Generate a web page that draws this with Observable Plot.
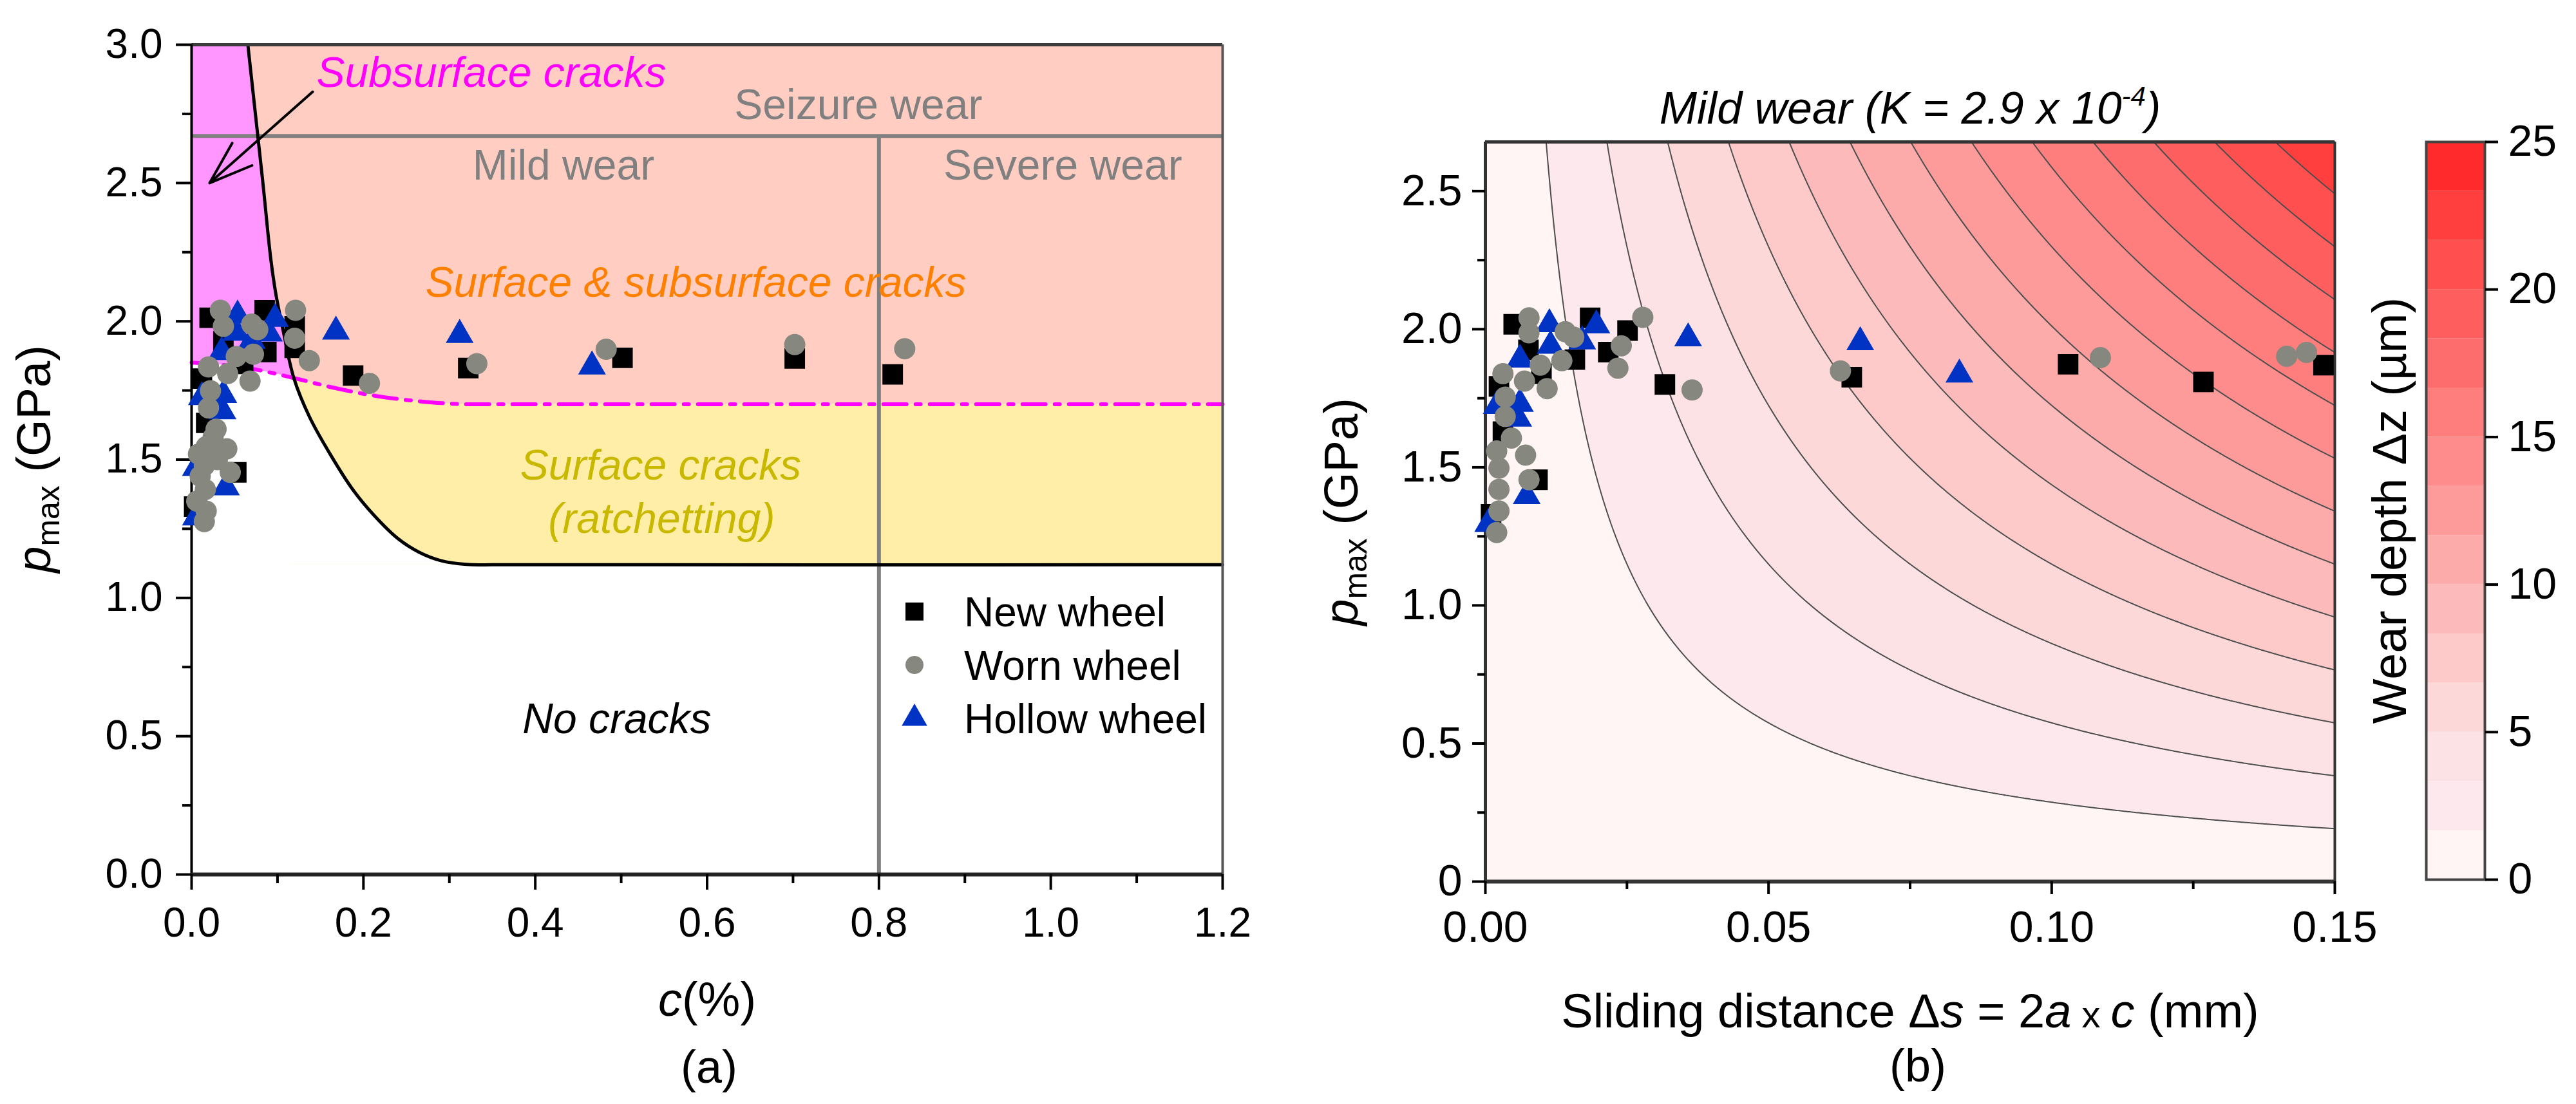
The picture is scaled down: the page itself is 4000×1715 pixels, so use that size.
<!DOCTYPE html>
<html>
<head>
<meta charset="utf-8">
<script src="https://cdn.jsdelivr.net/npm/d3@7"></script>
<script src="https://cdn.jsdelivr.net/npm/@observablehq/plot@0.6"></script>
<style>
  html, body { margin: 0; padding: 0; background: #fff; }
  #root { position: relative; width: 4000px; height: 1715px; overflow: hidden; background: #fff; }
  #root > svg { position: absolute; top: 0; }
</style>
</head>
<body>
<div id="root"></div>
<script>
// ---------------- DATA: panel (a) ----------------
const newA_c   = [0.021,0.085,0.120,0.120,0.087,0.060,0.012,0.037,0.188,0.017,0.052,0.003,0.322,0.5015,0.702,0.816];
const newA_p   = [2.013,2.040,1.982,1.904,1.889,1.846,1.793,1.928,1.804,1.633,1.454,1.330,1.831,1.868,1.866,1.808];
const wornA_c  = [0.0335,0.037,0.070,0.077,0.121,0.120,0.137,0.207,0.068,0.072,0.052,0.042,0.0197,0.022,0.0197,0.0285,0.041,0.045,0.017,0.0148,0.016,0.017,0.0148,0.008,0.010,0.006,0.025,0.030,0.332,0.4825,0.702,0.830];
const wornA_p  = [2.040,1.982,1.990,1.970,2.040,1.939,1.858,1.776,1.784,1.881,1.873,1.811,1.835,1.749,1.687,1.610,1.539,1.454,1.547,1.478,1.392,1.314,1.276,1.520,1.440,1.350,1.580,1.500,1.847,1.899,1.916,1.901];
const hollowA_c = [0.0535,0.097,0.168,0.090,0.052,0.035,0.037,0.036,0.040,0.012,0.005,0.005,0.070,0.312,0.466];
const hollowA_p = [2.021,2.009,1.963,1.956,1.959,1.889,1.734,1.675,1.400,1.726,1.291,1.470,1.930,1.951,1.837];

// shakedown limit curve (black) and subsurface-crack limit (dash-dot)
const shake_c = [0.0655,0.0725,0.083,0.092,0.098,0.107,0.119,0.137,0.162,0.188,0.212,0.240,0.265,0.290,0.320,0.360,1.200];
const shake_p = [3.000,2.800,2.500,2.230,2.100,1.960,1.795,1.656,1.516,1.390,1.300,1.215,1.165,1.135,1.121,1.120,1.120];
const sub_c   = [0,0.067,0.119,0.165,0.215,0.265,0.327,0.400,1.200];
const sub_p   = [1.851,1.830,1.795,1.760,1.730,1.711,1.700,1.700,1.700];
const crossP = 1.795, crossC = 0.119;          // where the two limits meet
const ratchetLimit = 1.12;                       // flat part of shakedown curve
const seizureLimit = 2.67;                       // mild / seizure wear
const severeLimit = 0.8;                         // mild / severe wear
const xTicksA = [0,0.2,0.4,0.6,0.8,1.0,1.2];
const xMinorA = [0.1,0.3,0.5,0.7,0.9,1.1];
const yTicksA = [0,0.5,1.0,1.5,2.0,2.5,3.0];
const yMinorA = [0.25,0.75,1.25,1.75,2.25,2.75];

// ---------------- DATA: panel (b) ----------------
const newB_s   = [0.0050,0.0185,0.0158,0.0217,0.0099,0.0024,0.0031,0.0092,0.0076,0.0251,0.0317,0.0647,0.1029,0.1268,0.1480,0.0010];
const newB_p   = [2.018,2.041,1.890,1.917,1.839,1.793,1.629,1.455,1.925,1.995,1.800,1.826,1.873,1.809,1.870,1.330];
const wornB_s  = [0.0077,0.0077,0.0141,0.0156,0.0135,0.0097,0.0069,0.0031,0.0109,0.0035,0.0035,0.0046,0.0071,0.0077,0.0020,0.0024,0.0024,0.0024,0.0020,0.0240,0.0234,0.0278,0.0365,0.0627,0.1086,0.1415,0.1450];
const wornB_p  = [2.041,1.987,1.991,1.971,1.886,1.870,1.812,1.839,1.785,1.754,1.684,1.606,1.544,1.455,1.559,1.497,1.420,1.342,1.264,1.940,1.859,2.043,1.780,1.849,1.897,1.902,1.916];
const hollowB_s = [0.0113,0.0196,0.0171,0.0061,0.0115,0.0061,0.0058,0.0020,0.0073,0.0005,0.0358,0.0662,0.0837];
const hollowB_p = [2.018,2.014,1.956,1.890,1.940,1.730,1.676,1.722,1.396,1.295,1.967,1.953,1.836];
const pTopB = 2.678;
const sMaxB = 0.15;
// wear depth model dz = k * s * p (µm), k calibrated on the contour spacing
const wearCoef = 58;
const bandEdges = [0,1.6667,3.3333,5,6.6667,8.3333,10,11.6667,13.3333,15,16.6667,18.3333,20,21.6667,23.3333,25];
const bandColors = ["#fff5f4","#fde8ee","#fde2e5","#fdd8d8","#fdc9c9","#fdbaba","#fdaaaa","#fd9b9b","#fe8c8c","#fe7d7d","#fe6d6d","#fe5e5e","#ff4f4f","#ff3e3e","#ff2a2c"];
const xTicksB = [0,0.05,0.10,0.15];
const xMinorB = [0.025,0.075,0.125];
const yTicksB = [0,0.5,1.0,1.5,2.0,2.5];
const yMinorB = [0.25,0.75,1.25,1.75,2.25];
const cbTicks = [0,5,10,15,20,25];

// ---------------- helpers ----------------
const zip = (xs, ys) => xs.map((x, i) => ({x, y: ys[i]}));
const FONT = '"Liberation Sans", Arial, Helvetica, sans-serif';
const BLUE = "#0033c4", GRAY = "#86887f", MAG = "#ff00ff";
const R_SQ = 18, R_CI = 16.5, R_TR = 16;

const newA = zip(newA_c, newA_p), wornA = zip(wornA_c, wornA_p), hollowA = zip(hollowA_c, hollowA_p);
const newB = zip(newB_s, newB_p), wornB = zip(wornB_s, wornB_p), hollowB = zip(hollowB_s, hollowB_p);
const shake = zip(shake_c, shake_p);
const sub = zip(sub_c, sub_p);
const shakeUpper = shake.filter(d => d.y >= crossP);
const shakeLower = shake.filter(d => d.y <= crossP && d.x < 1.0);
const subLeft = sub.filter(d => d.x <= crossC);

const root = document.getElementById("root");

// ---------------- panel (a) ----------------
const left = Plot.plot({
  width: 2000, height: 1715,
  marginLeft: 297, marginRight: 102, marginTop: 69, marginBottom: 357,
  x: {domain: [0, 1.2]},
  y: {domain: [0, 3.0]},
  style: {fontFamily: FONT, fontSize: "64px", background: "transparent", overflow: "visible", color: "#000"},
  marks: [
    Plot.areaY(sub, {x: "x", y1: ratchetLimit, y2: "y", fill: "#ffeea8", curve: "monotone-x"}),
    Plot.areaY(sub, {x: "x", y1: "y", y2: 3.0, fill: "#ffcdc1", curve: "monotone-x"}),
    Plot.areaX(shakeUpper, {y: "y", x1: 0, x2: "x", fill: "#ff96ff", curve: "catmull-rom"}),
    Plot.areaX(shakeLower, {y: "y", x1: 0, x2: "x", fill: "#ffffff", curve: "catmull-rom"}),
    Plot.areaY(subLeft, {x: "x", y1: ratchetLimit, y2: "y", fill: "#ffffff", curve: "monotone-x"}),
    Plot.ruleY([seizureLimit], {stroke: "#808080", strokeWidth: 6}),
    Plot.ruleX([severeLimit], {y1: 0, y2: seizureLimit, stroke: "#808080", strokeWidth: 6}),
    Plot.line(sub, {x: "x", y: "y", stroke: MAG, strokeWidth: 6, strokeDasharray: "36,14,8,14", curve: "monotone-x"}),
    Plot.line(shake, {x: "x", y: "y", stroke: "#000", strokeWidth: 5, curve: "catmull-rom"}),
    Plot.ruleY([3.0], {stroke: "#3c3c3c", strokeWidth: 5}),
    Plot.ruleX([1.2], {stroke: "#555", strokeWidth: 4}),
    Plot.ruleX([0], {stroke: "#000", strokeWidth: 4}),
    Plot.ruleY([0], {stroke: "#222", strokeWidth: 6}),
    Plot.axisX({ticks: xTicksA, tickFormat: d3.format(".1f"), tickSize: 24, tickPadding: 27, strokeWidth: 4, label: null}),
    Plot.axisX({ticks: xMinorA, tickFormat: () => "", tickSize: 14, strokeWidth: 4, label: null}),
    Plot.axisY({ticks: yTicksA, tickFormat: d3.format(".1f"), tickSize: 24, tickPadding: 21, strokeWidth: 4, label: null}),
    Plot.axisY({ticks: yMinorA, tickFormat: () => "", tickSize: 14, strokeWidth: 4, label: null}),
    Plot.text(["Subsurface cracks"], {x: 0.1454, y: 2.896, textAnchor: "start", fill: MAG, fontStyle: "italic", fontSize: 66}),
    Plot.text(["Seizure wear"], {x: 0.776, y: 2.78, fill: "#808080", fontSize: 66}),
    Plot.text(["Mild wear"], {x: 0.327, y: 2.561, textAnchor: "start", fill: "#808080", fontSize: 66}),
    Plot.text(["Severe wear"], {x: 1.014, y: 2.562, fill: "#808080", fontSize: 66}),
    Plot.text(["Surface & subsurface cracks"], {x: 0.272, y: 2.137, textAnchor: "start", fill: "#ff8000", fontStyle: "italic", fontSize: 66}),
    Plot.text(["Surface cracks"], {x: 0.546, y: 1.476, fill: "#c9b800", fontStyle: "italic", fontSize: 66}),
    Plot.text(["(ratchetting)"], {x: 0.547, y: 1.283, fill: "#c9b800", fontStyle: "italic", fontSize: 66}),
    Plot.text(["No cracks"], {x: 0.495, y: 0.559, fill: "#000", fontStyle: "italic", fontSize: 66}),
    Plot.arrow([{x1: 0.141, y1: 2.83, x2: 0.021, y2: 2.50}], {x1: "x1", y1: "y1", x2: "x2", y2: "y2", stroke: "#000", strokeWidth: 4, headLength: 42, headAngle: 38}),
    Plot.dot(newA, {x: "x", y: "y", symbol: "square", r: R_SQ, fill: "#000", stroke: null}),
    Plot.dot(hollowA, {x: "x", y: "y", symbol: "triangle", r: R_TR, fill: BLUE, stroke: null}),
    Plot.dot(wornA, {x: "x", y: "y", symbol: "circle", r: R_CI, fill: GRAY, stroke: null})
  ]
});
left.style.left = "0px";
root.appendChild(left);

// ---------------- panel (b) ----------------
const bandMid = bandEdges.slice(0, 14).map((t, i) => (t + bandEdges[i + 1]) / 2);
const right = Plot.plot({
  width: 1700, height: 1715,
  marginLeft: 306, marginRight: 75, marginTop: 220, marginBottom: 346,
  x: {domain: [0, sMaxB]},
  y: {domain: [0, pTopB]},
  color: {type: "threshold", domain: bandMid, range: bandColors},
  style: {fontFamily: FONT, fontSize: "68px", background: "transparent", overflow: "visible", color: "#000"},
  marks: [
    Plot.contour({x1: 0, x2: sMaxB, y1: 0, y2: pTopB, fill: (s, p) => wearCoef * s * p,
      thresholds: bandEdges.slice(0, 15), stroke: "#4d4d4d", strokeWidth: 2, pixelSize: 2}),
    Plot.ruleY([pTopB], {stroke: "#333", strokeWidth: 5}),
    Plot.ruleX([sMaxB], {stroke: "#333", strokeWidth: 4}),
    Plot.ruleX([0], {stroke: "#333", strokeWidth: 5}),
    Plot.ruleY([0], {stroke: "#333", strokeWidth: 6}),
    Plot.axisX({ticks: xTicksB, tickFormat: d3.format(".2f"), tickSize: 20, tickPadding: 25, strokeWidth: 4, label: null}),
    Plot.axisX({ticks: xMinorB, tickFormat: () => "", tickSize: 12, strokeWidth: 4, label: null}),
    Plot.axisY({ticks: yTicksB, tickFormat: d => d === 0 ? "0" : d.toFixed(1), tickSize: 20, tickPadding: 16, strokeWidth: 4, label: null}),
    Plot.axisY({ticks: yMinorB, tickFormat: () => "", tickSize: 12, strokeWidth: 4, label: null}),
    Plot.dot(newB, {x: "x", y: "y", symbol: "square", r: R_SQ, fill: "#000", stroke: null}),
    Plot.dot(hollowB, {x: "x", y: "y", symbol: "triangle", r: R_TR, fill: BLUE, stroke: null}),
    Plot.dot(wornB, {x: "x", y: "y", symbol: "circle", r: R_CI, fill: GRAY, stroke: null})
  ]
});
right.style.left = "2000px";
root.appendChild(right);

// ---------------- colour bar ----------------
const bands = bandColors.map((c, i) => ({lo: bandEdges[i], hi: bandEdges[i + 1], color: c}));
const cbar = Plot.plot({
  width: 360, height: 1715,
  marginLeft: 127, marginRight: 142, marginTop: 220, marginBottom: 349,
  x: {domain: [0, 1], axis: null},
  y: {domain: [0, 25]},
  color: {type: "identity"},
  style: {fontFamily: FONT, fontSize: "68px", background: "transparent", overflow: "visible", color: "#000"},
  marks: [
    Plot.rect(bands, {x1: 0, x2: 1, y1: "lo", y2: "hi", fill: "color"}),
    Plot.frame({stroke: "#444", strokeWidth: 4}),
    Plot.axisY({anchor: "right", ticks: cbTicks, tickSize: 20, tickPadding: 16, strokeWidth: 4, label: null})
  ]
});
cbar.style.left = "3640px";
root.appendChild(cbar);

// ---------------- titles & labels (real text) ----------------
function pmaxLabel(sel, x, y) {
  const t = sel.append("text").attr("transform", `translate(${x},${y}) rotate(-90)`)
    .attr("text-anchor", "middle").attr("font-size", 74).attr("font-family", FONT).attr("fill", "#000");
  t.append("tspan").attr("font-style", "italic").attr("dy", "0.35em").text("p");
  t.append("tspan").attr("font-size", 50).attr("dy", 14).text("max");
  t.append("tspan").attr("dy", -14).text(" (GPa)");
}
const sl = d3.select(left);
pmaxLabel(sl, 52, 713);
const ct = sl.append("text").attr("x", 1098).attr("y", 1578).attr("text-anchor", "middle")
  .attr("font-size", 74).attr("font-family", FONT);
ct.append("tspan").attr("font-style", "italic").text("c");
ct.append("tspan").text("(%)");
sl.append("text").attr("x", 1101).attr("y", 1682).attr("text-anchor", "middle")
  .attr("font-size", 72).attr("font-family", FONT).text("(a)");

// legend
const legendRows = [
  {label: "New wheel", sym: d3.symbolSquare, size: 28 * 28, fill: "#000"},
  {label: "Worn wheel", sym: d3.symbolCircle, size: Math.PI * 14 * 14, fill: GRAY},
  {label: "Hollow wheel", sym: d3.symbolTriangle, size: 680, fill: BLUE}
];
const lg = sl.append("g").attr("font-family", FONT).attr("font-size", 64).attr("text-anchor", "start");
legendRows.forEach((r, i) => {
  const cy = 950 + i * 83;
  lg.append("path").attr("d", d3.symbol(r.sym, r.size)()).attr("transform", `translate(1420,${cy})`).attr("fill", r.fill);
  lg.append("text").attr("x", 1497).attr("y", cy + 23).attr("text-anchor", "start").text(r.label);
});

const sr = d3.select(right);
pmaxLabel(sr, 82, 795);
const tt = sr.append("text").attr("x", 966).attr("y", 192).attr("text-anchor", "middle")
  .attr("font-size", 70).attr("font-style", "italic").attr("font-family", FONT);
tt.append("tspan").text("Mild wear (K = 2.9 x 10");
tt.append("tspan").attr("font-size", 42).attr("dy", -28).text("-4");
tt.append("tspan").attr("dy", 28).text(")");
const xt = sr.append("text").attr("x", 966).attr("y", 1596).attr("text-anchor", "middle")
  .attr("font-size", 74).attr("font-family", FONT);
xt.append("tspan").text("Sliding distance Δ");
xt.append("tspan").attr("font-style", "italic").text("s");
xt.append("tspan").text(" = 2");
xt.append("tspan").attr("font-style", "italic").text("a");
xt.append("tspan").attr("font-size", 58).text(" x ");
xt.append("tspan").attr("font-style", "italic").text("c");
xt.append("tspan").text(" (mm)");
sr.append("text").attr("x", 978).attr("y", 1680).attr("text-anchor", "middle")
  .attr("font-size", 72).attr("font-family", FONT).text("(b)");

d3.select(cbar).append("text").attr("transform", "translate(70,793) rotate(-90)")
  .attr("text-anchor", "middle").attr("dy", "0.35em").attr("font-size", 74).attr("font-family", FONT)
  .text("Wear depth Δz (µm)");
</script>
</body>
</html>
